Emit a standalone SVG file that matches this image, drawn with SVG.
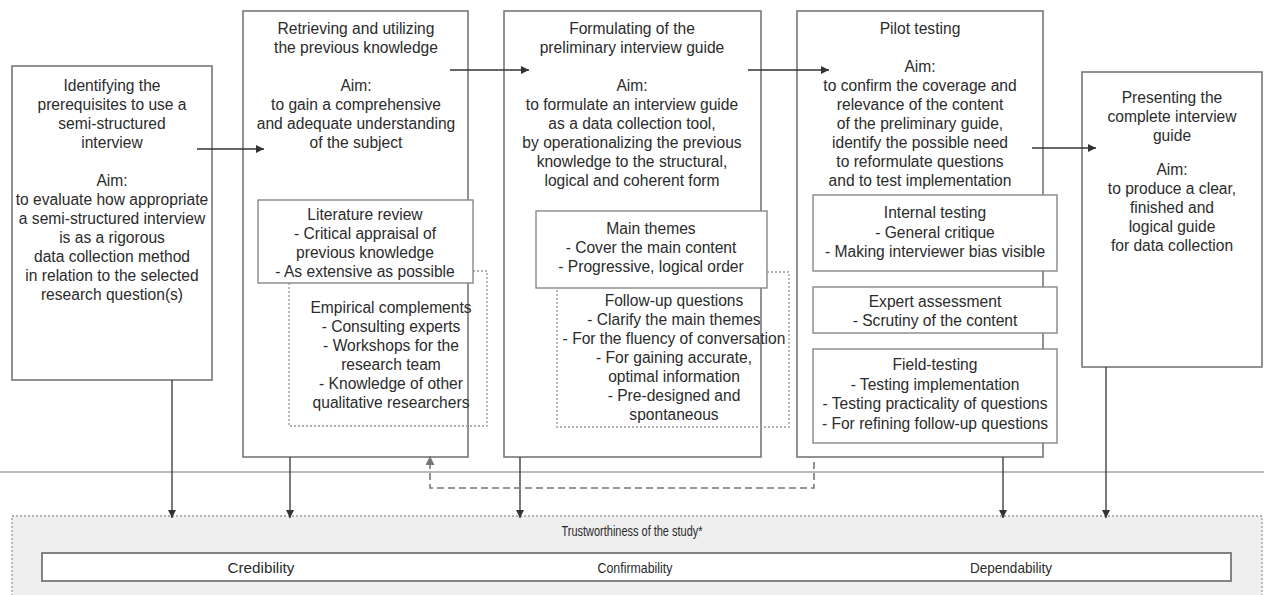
<svg xmlns="http://www.w3.org/2000/svg" width="1264" height="595" viewBox="0 0 1264 595">
<defs>
<marker id="ah" viewBox="0 0 10 10" refX="10" refY="5" markerWidth="8" markerHeight="8" markerUnits="userSpaceOnUse" orient="auto">
<path d="M0,0 L10,5 L0,10 z" fill="#333"/>
</marker>
<marker id="ahg" viewBox="0 0 10 10" refX="10" refY="5" markerWidth="9" markerHeight="9" markerUnits="userSpaceOnUse" orient="auto">
<path d="M0,0 L10,5 L0,10 z" fill="#777"/>
</marker>
<style>
.box{fill:#fff;stroke:#777;stroke-width:1.6}
.sub{fill:#fff;stroke:#888;stroke-width:1.4}
.dot{fill:none;stroke:#999;stroke-width:1.3;stroke-dasharray:2,2}
.t{font-family:"Liberation Sans",Arial,sans-serif;font-size:15.6px;fill:#2b2b2b;text-anchor:middle}
.c{font-family:"Liberation Sans",Arial,sans-serif;font-size:15px;fill:#2b2b2b;text-anchor:middle}
.ln{fill:none;stroke:#333;stroke-width:1.3}
.dash{fill:none;stroke:#777;stroke-width:1.6;stroke-dasharray:7,4}
</style>
</defs>
<rect width="1264" height="595" fill="#fff"/>

<line x1="0" y1="472" x2="1264" y2="472" stroke="#bbb" stroke-width="2"/>

<g id="n1">
<rect class="box" x="12" y="66" width="200" height="314"/>
<text class="t" x="112" y="91"><tspan x="112">Identifying the</tspan><tspan x="112" dy="19">prerequisites to use a</tspan><tspan x="112" dy="19">semi-structured</tspan><tspan x="112" dy="19">interview</tspan><tspan x="112" dy="38">Aim:</tspan><tspan x="112" dy="19">to evaluate how appropriate</tspan><tspan x="112" dy="19">a semi-structured interview</tspan><tspan x="112" dy="19">is as a rigorous</tspan><tspan x="112" dy="19">data collection method</tspan><tspan x="112" dy="19">in relation to the selected</tspan><tspan x="112" dy="19">research question(s)</tspan></text>
</g>

<g id="n2">
<rect class="box" x="243" y="11" width="225" height="446"/>
<text class="t" x="356" y="34"><tspan x="356">Retrieving and utilizing</tspan><tspan x="356" dy="19">the previous knowledge</tspan><tspan x="356" dy="38">Aim:</tspan><tspan x="356" dy="19">to gain a comprehensive</tspan><tspan x="356" dy="19">and adequate understanding</tspan><tspan x="356" dy="19">of the subject</tspan></text>
<path class="dot" d="M473,271 H487 V426 H289 V283"/>
<rect class="sub" x="258" y="200" width="215" height="83"/>
<text class="t" x="365" y="220"><tspan x="365">Literature review</tspan><tspan x="365" dy="19">- Critical appraisal of</tspan><tspan x="365" dy="19">previous knowledge</tspan><tspan x="365" dy="19">- As extensive as possible</tspan></text>
<text class="t" x="391" y="313"><tspan x="391">Empirical complements</tspan><tspan x="391" dy="19">- Consulting experts</tspan><tspan x="391" dy="19">- Workshops for the</tspan><tspan x="391" dy="19">research team</tspan><tspan x="391" dy="19">- Knowledge of other</tspan><tspan x="391" dy="19">qualitative researchers</tspan></text>
</g>

<g id="n3">
<rect class="box" x="504" y="11" width="257" height="446"/>
<text class="t" x="632" y="34"><tspan x="632">Formulating of the</tspan><tspan x="632" dy="19">preliminary interview guide</tspan><tspan x="632" dy="38">Aim:</tspan><tspan x="632" dy="19">to formulate an interview guide</tspan><tspan x="632" dy="19">as a data collection tool,</tspan><tspan x="632" dy="19">by operationalizing the previous</tspan><tspan x="632" dy="19">knowledge to the structural,</tspan><tspan x="632" dy="19">logical and coherent form</tspan></text>
<path class="dot" d="M767,272 H789 V427 H557 V288"/>
<rect class="sub" x="536" y="211" width="231" height="77"/>
<text class="t" x="651" y="234"><tspan x="651">Main themes</tspan><tspan x="651" dy="19">- Cover the main content</tspan><tspan x="651" dy="19">- Progressive, logical order</tspan></text>
<text class="t" x="674" y="306"><tspan x="674">Follow-up questions</tspan><tspan x="674" dy="19">- Clarify the main themes</tspan><tspan x="674" dy="19">- For the fluency of conversation</tspan><tspan x="674" dy="19">- For gaining accurate,</tspan><tspan x="674" dy="19">optimal information</tspan><tspan x="674" dy="19">- Pre-designed and</tspan><tspan x="674" dy="19">spontaneous</tspan></text>
</g>

<g id="n4">
<rect class="box" x="797" y="11" width="246" height="446"/>
<text class="t" x="920" y="34"><tspan x="920">Pilot testing</tspan><tspan x="920" dy="38">Aim:</tspan><tspan x="920" dy="19">to confirm the coverage and</tspan><tspan x="920" dy="19">relevance of the content</tspan><tspan x="920" dy="19">of the preliminary guide,</tspan><tspan x="920" dy="19">identify the possible need</tspan><tspan x="920" dy="19">to reformulate questions</tspan><tspan x="920" dy="19">and to test implementation</tspan></text>
<rect class="sub" x="813" y="195" width="244" height="76"/>
<text class="t" x="935" y="218"><tspan x="935">Internal testing</tspan><tspan x="935" dy="19.5">- General critique</tspan><tspan x="935" dy="19.5">- Making interviewer bias visible</tspan></text>
<rect class="sub" x="813" y="287" width="244" height="46"/>
<text class="t" x="935" y="307"><tspan x="935">Expert assessment</tspan><tspan x="935" dy="19">- Scrutiny of the content</tspan></text>
<rect class="sub" x="813" y="349" width="244" height="94"/>
<text class="t" x="935" y="370"><tspan x="935">Field-testing</tspan><tspan x="935" dy="19.5">- Testing implementation</tspan><tspan x="935" dy="19.5">- Testing practicality of questions</tspan><tspan x="935" dy="19.5">- For refining follow-up questions</tspan></text>
</g>

<g id="n5">
<rect class="box" x="1082" y="72" width="180" height="295"/>
<text class="t" x="1172" y="103"><tspan x="1172">Presenting the</tspan><tspan x="1172" dy="19">complete interview</tspan><tspan x="1172" dy="19">guide</tspan><tspan x="1172" dy="34">Aim:</tspan><tspan x="1172" dy="19">to produce a clear,</tspan><tspan x="1172" dy="19">finished and</tspan><tspan x="1172" dy="19">logical guide</tspan><tspan x="1172" dy="19">for data collection</tspan></text>
</g>

<g id="trust">
<rect x="12" y="516" width="1250" height="90" fill="#efefef" stroke="#999" stroke-width="1.3" stroke-dasharray="2,2"/>
<text class="c" x="632" y="536" textLength="141" lengthAdjust="spacingAndGlyphs">Trustworthiness of the study*</text>
<rect x="42" y="553" width="1189" height="28" fill="#fff" stroke="#777" stroke-width="1.8"/>
<text class="c" x="261" y="573" textLength="67" lengthAdjust="spacingAndGlyphs">Credibility</text>
<text class="c" x="635" y="573" textLength="75" lengthAdjust="spacingAndGlyphs">Confirmability</text>
<text class="c" x="1011" y="573" textLength="82" lengthAdjust="spacingAndGlyphs">Dependability</text>
</g>

<g id="connectors">
<line class="ln" x1="197" y1="149" x2="264" y2="149" marker-end="url(#ah)"/>
<line class="ln" x1="450" y1="70" x2="529" y2="70" marker-end="url(#ah)"/>
<line class="ln" x1="748" y1="70" x2="829" y2="70" marker-end="url(#ah)"/>
<line class="ln" x1="1032" y1="148" x2="1096" y2="148" marker-end="url(#ah)"/>
<line class="ln" x1="172" y1="380" x2="172" y2="518" marker-end="url(#ah)"/>
<line class="ln" x1="290" y1="457" x2="290" y2="518" marker-end="url(#ah)"/>
<line class="ln" x1="520" y1="457" x2="520" y2="518" marker-end="url(#ah)"/>
<line class="ln" x1="1003" y1="457" x2="1003" y2="518" marker-end="url(#ah)"/>
<line class="ln" x1="1106" y1="367" x2="1106" y2="518" marker-end="url(#ah)"/>
<path class="dash" d="M814,462 V488 H430 V456" marker-end="url(#ahg)"/>
</g>
</svg>
